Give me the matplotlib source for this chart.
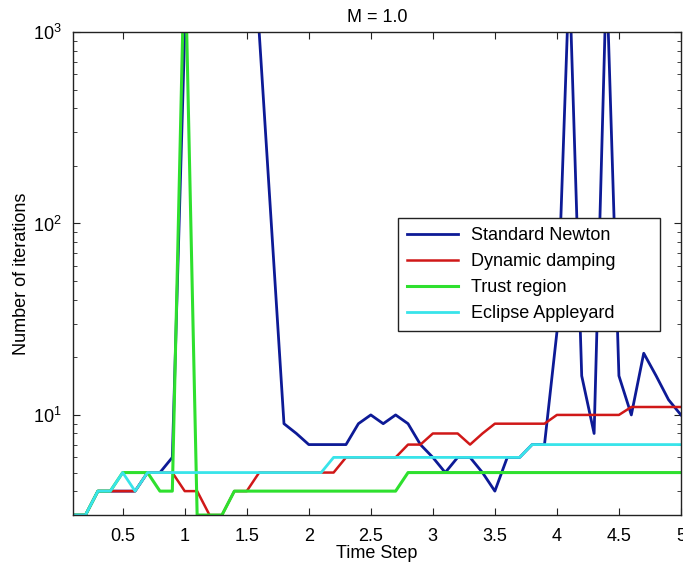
import matplotlib
matplotlib.use("Agg")
import matplotlib.pyplot as plt
from matplotlib.ticker import FixedLocator, FuncFormatter, LogLocator, NullFormatter

plt.rcParams['font.family'] = ['Liberation Sans', 'DejaVu Sans']
plt.rcParams['mathtext.fontset'] = 'custom'
plt.rcParams['mathtext.rm'] = 'Liberation Sans'
plt.rcParams['mathtext.default'] = 'regular'

time_step = [0.1, 0.2, 0.3, 0.4, 0.5, 0.6, 0.7, 0.8, 0.9, 1.0,
             1.1, 1.2, 1.3, 1.4, 1.5, 1.6, 1.7, 1.8, 1.9, 2.0,
             2.1, 2.2, 2.3, 2.4, 2.5, 2.6, 2.7, 2.8, 2.9, 3.0,
             3.1, 3.2, 3.3, 3.4, 3.5, 3.6, 3.7, 3.8, 3.9, 4.0,
             4.1, 4.2, 4.3, 4.4, 4.5, 4.6, 4.7, 4.8, 4.9, 5.0]

standard_newton = [3, 3, 4, 4, 4, 4, 5, 5, 6, 1000,
                   2000, 2000, 2000, 2000, 2000, 1000, 95, 9, 8, 7,
                   7, 7, 7, 9, 10, 9, 10, 9, 7, 6,
                   5, 6, 6, 5, 4, 6, 6, 7, 7, 27,
                   2000, 16, 8, 2000, 16, 10, 21, 16, 12, 10]

dynamic_damping = [3, 3, 4, 4, 4, 4, 5, 5, 5, 4,
                   4, 3, 3, 4, 4, 5, 5, 5, 5, 5,
                   5, 5, 6, 6, 6, 6, 6, 7, 7, 8,
                   8, 8, 7, 8, 9, 9, 9, 9, 9, 10,
                   10, 10, 10, 10, 10, 11, 11, 11, 11, 11]

trust_region = [3, 3, 4, 4, 5, 5, 5, 4, 4, 3000,
                3, 3, 3, 4, 4, 4, 4, 4, 4, 4,
                4, 4, 4, 4, 4, 4, 4, 5, 5, 5,
                5, 5, 5, 5, 5, 5, 5, 5, 5, 5,
                5, 5, 5, 5, 5, 5, 5, 5, 5, 5]

eclipse_appleyard = [3, 3, 4, 4, 5, 4, 5, 5, 5, 5,
                     5, 5, 5, 5, 5, 5, 5, 5, 5, 5,
                     5, 6, 6, 6, 6, 6, 6, 6, 6, 6,
                     6, 6, 6, 6, 6, 6, 6, 7, 7, 7,
                     7, 7, 7, 7, 7, 7, 7, 7, 7, 7]

series_labels = ["Standard Newton", "Dynamic damping", "Trust region", "Eclipse Appleyard"]
x_ticks = [0.5, 1, 1.5, 2, 2.5, 3, 3.5, 4, 4.5, 5]

FS = 13

fig = plt.figure(figsize=(6.83, 5.71), dpi=100)
ax = fig.add_axes([0.107, 0.098, 0.890, 0.846])

ax.plot(time_step, standard_newton, color='#0d1a96', lw=2.0, label=series_labels[0])
ax.plot(time_step, dynamic_damping, color='#d01818', lw=1.8, label=series_labels[1])
ax.plot(time_step, trust_region, color='#2ee02e', lw=2.2, label=series_labels[2])
ax.plot(time_step, eclipse_appleyard, color='#38e4ea', lw=2.0, label=series_labels[3])

ax.set_yscale('log')
ax.set_xlim(0.1, 5)
ax.set_ylim(3, 1000)

ax.xaxis.set_major_locator(FixedLocator(x_ticks))
ax.xaxis.set_major_formatter(FuncFormatter(lambda v, p: '%g' % v))
ax.yaxis.set_major_locator(LogLocator(base=10, numticks=10))
ax.yaxis.set_minor_locator(LogLocator(base=10, subs=range(2, 10), numticks=20))
ax.yaxis.set_minor_formatter(NullFormatter())

ax.tick_params(which='both', direction='in', top=True, right=True, labelsize=FS, color='#222222')
ax.tick_params(which='major', length=5)
ax.tick_params(which='minor', length=3)
ax.tick_params(axis='x', which='major', pad=9)
ax.tick_params(axis='y', which='major', pad=8)
for s in ax.spines.values():
    s.set_linewidth(1.0)
    s.set_color('#222222')

ax.set_title('M = 1.0', fontsize=FS, pad=7)
ax.set_xlabel('Time Step', fontsize=FS, labelpad=0)
ax.set_ylabel('Number of iterations', fontsize=FS, labelpad=2)

leg = ax.legend(loc='upper left', bbox_to_anchor=(0.535, 0.385, 0.431, 0.23),
                mode='expand', borderaxespad=0,
                fontsize=FS, fancybox=False, framealpha=1, edgecolor='#222222',
                handlelength=2.8, handletextpad=0.7, labelspacing=0.5, borderpad=0.5)
leg.get_frame().set_linewidth(1.0)

fig.savefig('out.png', dpi=100)
